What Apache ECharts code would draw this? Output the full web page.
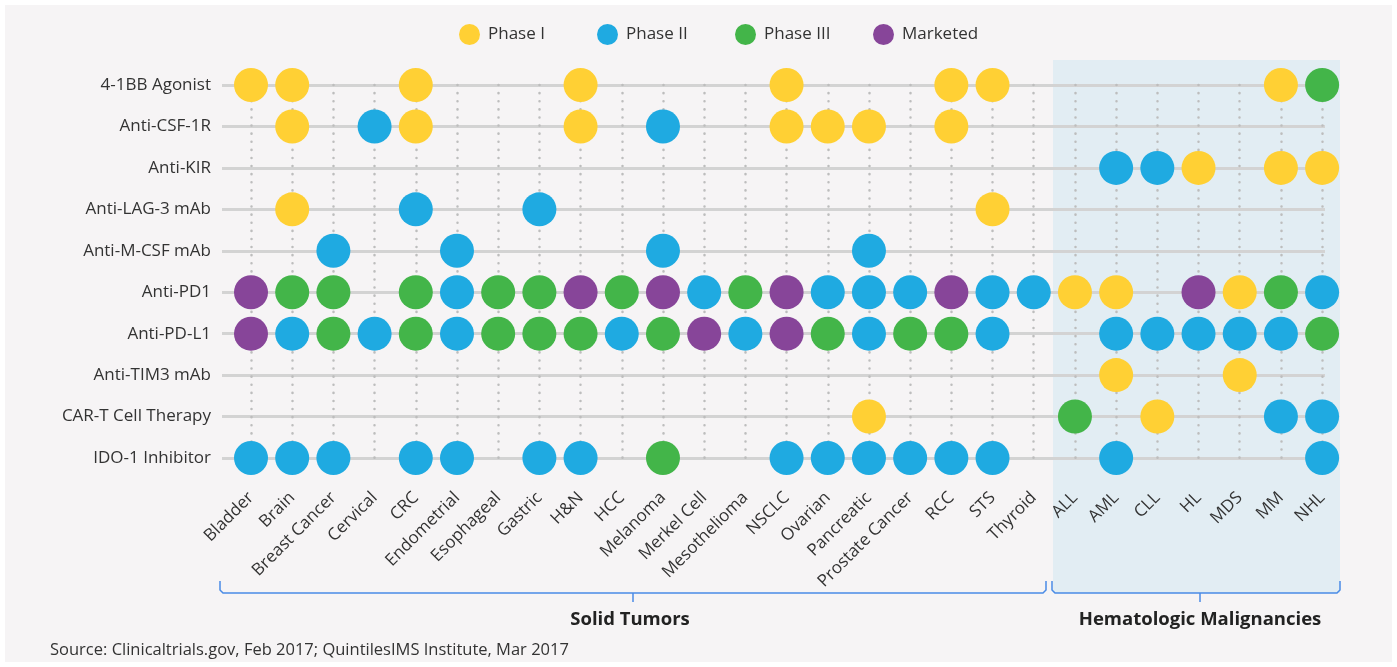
<!DOCTYPE html>
<html><head><meta charset="utf-8">
<script src="https://cdn.jsdelivr.net/npm/echarts@6/dist/echarts.min.js"></script>
<style>html,body{margin:0;padding:0;background:#fff}#c{width:1397px;height:667px}</style>
</head><body><div id="c"></div>
<script>
// Categories (x) and drugs (y)
const categories = ['Bladder','Brain','Breast Cancer','Cervical','CRC','Endometrial','Esophageal','Gastric','H&N','HCC','Melanoma','Merkel Cell','Mesothelioma','NSCLC','Ovarian','Pancreatic','Prostate Cancer','RCC','STS','Thyroid','ALL','AML','CLL','HL','MDS','MM','NHL'];
const drugs = ['4-1BB Agonist','Anti-CSF-1R','Anti-KIR','Anti-LAG-3 mAb','Anti-M-CSF mAb','Anti-PD1','Anti-PD-L1','Anti-TIM3 mAb','CAR-T Cell Therapy','IDO-1 Inhibitor'];
const phases = ['Phase I','Phase II','Phase III','Marketed'];
const groupLabels = ['Solid Tumors','Hematologic Malignancies'];
const sourceText = 'Source: Clinicaltrials.gov, Feb 2017; QuintilesIMS Institute, Mar 2017';

// Stage per category (0 = none, 1 = Phase I, 2 = Phase II, 3 = Phase III, 4 = Marketed)
const agonist41BB = [1,1,0,0,1,0,0,0,1,0,0,0,0,1,0,0,0,1,1,0, 0,0,0,0,0,1,3];
const antiCSF1R   = [0,1,0,2,1,0,0,0,1,0,2,0,0,1,1,1,0,1,0,0, 0,0,0,0,0,0,0];
const antiKIR     = [0,0,0,0,0,0,0,0,0,0,0,0,0,0,0,0,0,0,0,0, 0,2,2,1,0,1,1];
const antiLAG3    = [0,1,0,0,2,0,0,2,0,0,0,0,0,0,0,0,0,0,1,0, 0,0,0,0,0,0,0];
const antiMCSF    = [0,0,2,0,0,2,0,0,0,0,2,0,0,0,0,2,0,0,0,0, 0,0,0,0,0,0,0];
const antiPD1     = [4,3,3,0,3,2,3,3,4,3,4,2,3,4,2,2,2,4,2,2, 1,1,0,4,1,3,2];
const antiPDL1    = [4,2,3,2,3,2,3,3,3,2,3,4,2,4,3,2,3,3,2,0, 0,2,2,2,2,2,3];
const antiTIM3    = [0,0,0,0,0,0,0,0,0,0,0,0,0,0,0,0,0,0,0,0, 0,1,0,0,1,0,0];
const carT        = [0,0,0,0,0,0,0,0,0,0,0,0,0,0,0,1,0,0,0,0, 3,0,1,0,0,2,2];
const ido1        = [2,2,2,0,2,2,0,2,2,0,3,0,0,2,2,2,2,2,2,0, 0,2,0,0,0,0,2];

const rows = [agonist41BB, antiCSF1R, antiKIR, antiLAG3, antiMCSF, antiPD1, antiPDL1, antiTIM3, carT, ido1];
const colors = ['#FFD034','#1FAAE1','#43B549','#874599'];
const FONT = 'Open Sans';

const chart = echarts.init(document.getElementById('c'));

const phaseSeries = phases.map((name, p) => {
  const data = [];
  rows.forEach((row, r) => row.forEach((v, c) => { if (v === p + 1) data.push([c, drugs[r]]); }));
  return { name, type: 'scatter', symbol: 'circle', symbolSize: 34, z: 5, clip: false,
           itemStyle: { color: colors[p], opacity: 1 }, emphasis: { disabled: true }, data };
});

// one legend per phase, evenly spaced like the original
const legends = phases.map((name, p) => ({
  top: 19, left: 454 + p * 138, icon: 'circle', itemWidth: 21, itemHeight: 21,
  data: [name], selectedMode: false,
  textStyle: { fontSize: 17, color: '#333', fontFamily: FONT, padding: [0, 0, 0, 3] }
}));

const option = {
  backgroundColor: '#ffffff',
  animation: false,
  textStyle: { fontFamily: FONT },
  legend: legends,
  grid: { left: 222, right: 72, top: 85, bottom: 209, containLabel: false },
  xAxis: {
    type: 'value', min: -0.704, max: 26.07,
    axisLine: { show: false }, axisTick: { show: false }, splitLine: { show: false },
    axisLabel: {
      customValues: categories.map((c, i) => i),
      formatter: v => categories[Math.round(v)],
      rotate: 45, margin: 37, fontSize: 17, color: '#333', fontFamily: FONT
    }
  },
  yAxis: {
    type: 'category', data: drugs, inverse: true, boundaryGap: false,
    axisLine: { show: false }, axisTick: { show: false },
    splitLine: { show: true, lineStyle: { color: '#d3d3d3', width: 3 } },
    axisLabel: { margin: 11, fontSize: 17, color: '#333', fontFamily: FONT }
  },
  graphic: [
    { type: 'rect', z: -10, silent: true, shape: { x: 5, y: 5, width: 1387, height: 657 }, style: { fill: '#f6f4f5' } },
    { type: 'rect', z: -9, silent: true, shape: { x: 1053, y: 60, width: 287, height: 533 }, style: { fill: '#e2edf3' } },
    { type: 'polyline', z: 10, silent: true, shape: { points: [[220,581],[220,590],[223,593],[1043,593],[1046,590],[1046,581]] }, style: { stroke: '#4a8be6', lineWidth: 1.5, fill: null } },
    { type: 'line', z: 10, silent: true, shape: { x1: 633, y1: 593, x2: 633, y2: 602 }, style: { stroke: '#4a8be6', lineWidth: 1.5 } },
    { type: 'polyline', z: 10, silent: true, shape: { points: [[1052,581],[1052,590],[1055,593],[1337,593],[1340,590],[1340,581]] }, style: { stroke: '#4a8be6', lineWidth: 1.5, fill: null } },
    { type: 'line', z: 10, silent: true, shape: { x1: 1200, y1: 593, x2: 1200, y2: 602 }, style: { stroke: '#4a8be6', lineWidth: 1.5 } },
    { type: 'text', z: 10, silent: true, x: 630, y: 620, style: { text: groupLabels[0], font: 'bold 18.5px "Open Sans"', fill: '#222', align: 'center', verticalAlign: 'middle' } },
    { type: 'text', z: 10, silent: true, x: 1200, y: 620, style: { text: groupLabels[1], font: 'bold 18.5px "Open Sans"', fill: '#222', align: 'center', verticalAlign: 'middle' } },
    { type: 'text', z: 10, silent: true, x: 50, y: 650, style: { text: sourceText, font: '16.5px "Open Sans"', fill: '#333', align: 'left', verticalAlign: 'middle' } }
  ],
  series: [
    { name: 'grid-lines', type: 'scatter', data: [], z: 1, silent: true,
      markLine: { silent: true, symbol: 'none', label: { show: false }, animation: false,
        lineStyle: { color: '#bdbdbd', width: 2.5, type: [0.1, 8], cap: 'round' },
        emphasis: { disabled: true },
        data: categories.map((c, i) => ({ xAxis: i })) } },
    ...phaseSeries
  ]
};
chart.setOption(option);
</script></body></html>
